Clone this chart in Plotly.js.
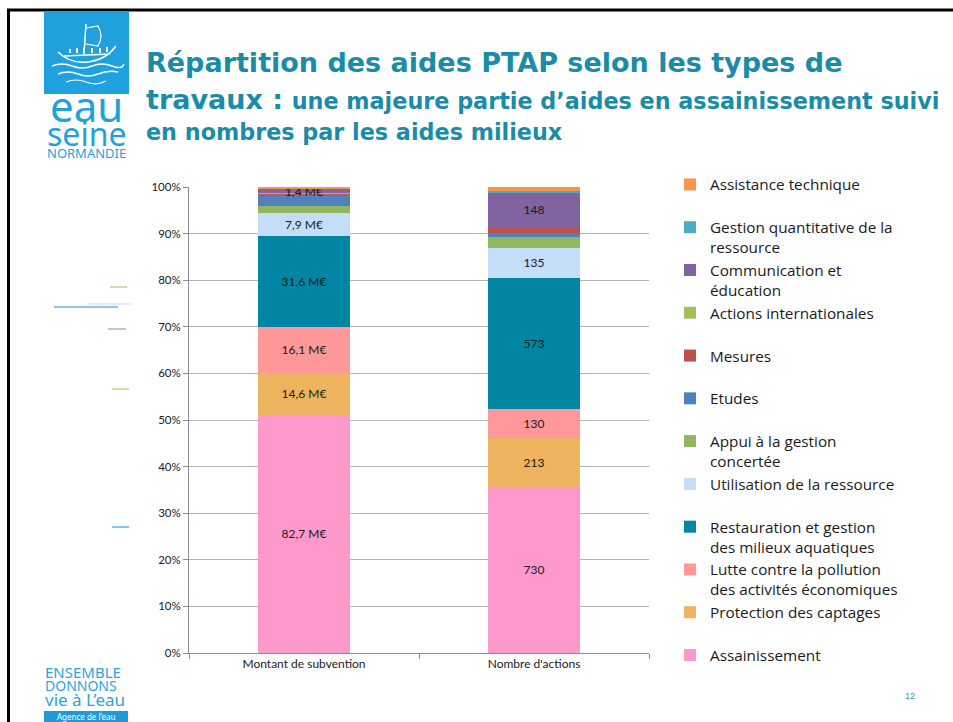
<!DOCTYPE html>
<html>
<head>
<meta charset="utf-8">
<script src="https://cdn.plot.ly/plotly-3.0.1.min.js"></script>
<style>
html,body{margin:0;padding:0;background:#fff;}
#chart{width:953px;height:722px;}
</style>
</head>
<body>
<div id="chart"></div>
<script>
// ---------- DATA ----------
const categories = ['Montant de subvention', "Nombre d'actions"];
const seriesNames = [
  'Assainissement',
  'Protection des captages',
  'Lutte contre la pollution des activités économiques',
  'Restauration et gestion des milieux aquatiques',
  'Utilisation de la ressource',
  'Appui à la gestion concertée',
  'Etudes',
  'Mesures',
  'Actions internationales',
  'Communication et éducation',
  'Gestion quantitative de la ressource',
  'Assistance technique'
];
const legendLabels = [
  'Assainissement',
  'Protection des captages',
  'Lutte contre la pollution<br>des activités économiques',
  'Restauration et gestion<br>des milieux aquatiques',
  'Utilisation de la ressource',
  'Appui à la gestion<br>concertée',
  'Etudes',
  'Mesures',
  'Actions internationales',
  'Communication et<br>éducation',
  'Gestion quantitative de la<br>ressource',
  'Assistance technique'
];
// Montant de subvention (M€)
const montantMEUR = [82.7, 14.6, 16.1, 31.6, 7.9, 2.4, 3.8, 0.4, 0.2, 1.4, 0.2, 0.6];
// Nombre d'actions
const nombreActions = [730, 213, 130, 573, 135, 47, 16, 28, 1, 148, 10, 16];
const showLabel = [true, true, true, true, true, false, false, false, false, true, false, false];
const seriesColors = ['#FF99CC', '#EEB35F', '#FF9999', '#0086A3', '#C4DDF8', '#92B55F',
                      '#4F81BD', '#C0504D', '#A3C15B', '#8064A2', '#4BACC6', '#F79646'];

// ---------- GEOMETRY helpers (page pixels -> paper) ----------
const W = 953, H = 722;
const M = {l: 189, r: 304, t: 187, b: 69};
const PW = W - M.l - M.r, PH = H - M.t - M.b;
const X = px => (px - M.l) / PW;
const Y = py => (H - M.b - py) / PH;

const fmtM = v => v.toFixed(1).replace('.', ',') + ' M€';

const traces = seriesNames.map((name, i) => {
  const single = legendLabels[i].indexOf('<br>') < 0;
  return {
    type: 'bar',
    name: single ? legendLabels[i] + '<br>\u00a0' : legendLabels[i],
    x: categories,
    y: [montantMEUR[i], nombreActions[i]],
    text: showLabel[i] ? [fmtM(montantMEUR[i]), String(nombreActions[i])] : ['', ''],
    textposition: 'inside',
    insidetextanchor: 'middle',
    textangle: 0,
    textfont: {family: 'Lato, sans-serif', size: 12, color: '#1a1a1a'},
    marker: {color: seriesColors[i], line: {width: 0}},
    hoverinfo: 'name+y'
  };
});

const teal = '#1A8CA7';
const logoBlue = '#1EA1DC';

const P = (px, py) => X(px) + ',' + Y(py);

const shapes = [
  // slide frame
  {type: 'line', xref: 'paper', yref: 'paper', x0: X(8.5), x1: X(8.5), y0: Y(9), y1: Y(722), line: {color: '#000', width: 3}},
  {type: 'line', xref: 'paper', yref: 'paper', x0: X(7), x1: X(953), y0: Y(10), y1: Y(10), line: {color: '#000', width: 3}},
  // logo block
  {type: 'rect', xref: 'paper', yref: 'paper', x0: X(44), x1: X(129), y0: Y(12), y1: Y(94), fillcolor: logoBlue, line: {width: 0}, layer: 'below'},
  // ship hull
  {type: 'path', xref: 'paper', yref: 'paper', layer: 'above',
   path: 'M' + P(58, 52) + ' Q' + P(70, 64) + ' ' + P(88, 62) + ' Q' + P(106, 60) + ' ' + P(116, 46) +
         ' M' + P(64, 56) + ' L' + P(110, 54),
   line: {color: '#fff', width: 1.5}},
  // shields
  {type: 'path', xref: 'paper', yref: 'paper', layer: 'above',
   path: 'M' + P(70, 53) + ' L' + P(70, 49) + ' M' + P(77, 53) + ' L' + P(77, 48) + ' M' + P(84, 53) + ' L' + P(84, 48) +
         ' M' + P(92, 53) + ' L' + P(92, 48) + ' M' + P(100, 53) + ' L' + P(100, 48) + ' M' + P(107, 52) + ' L' + P(107, 47),
   line: {color: '#fff', width: 2}},
  // mast and sail
  {type: 'line', xref: 'paper', yref: 'paper', x0: X(84), x1: X(86), y0: Y(54), y1: Y(24), line: {color: '#fff', width: 1.5}},
  {type: 'path', xref: 'paper', yref: 'paper', layer: 'above',
   path: 'M' + P(86, 28) + ' L' + P(98, 26) + ' Q' + P(104, 36) + ' ' + P(98, 46) + ' L' + P(86, 44),
   line: {color: '#fff', width: 1.2}},
  // waves
  {type: 'path', xref: 'paper', yref: 'paper', layer: 'above',
   path: 'M' + P(52, 66) + ' Q' + P(62, 62) + ' ' + P(72, 66) + ' T' + P(92, 66) + ' T' + P(112, 66) + ' T' + P(124, 64),
   line: {color: '#fff', width: 1.5}},
  {type: 'path', xref: 'paper', yref: 'paper', layer: 'above',
   path: 'M' + P(58, 74) + ' Q' + P(68, 70) + ' ' + P(78, 74) + ' T' + P(98, 74) + ' T' + P(118, 72),
   line: {color: '#fff', width: 1.5}},
  {type: 'path', xref: 'paper', yref: 'paper', layer: 'above',
   path: 'M' + P(66, 82) + ' Q' + P(76, 78) + ' ' + P(86, 82) + ' T' + P(106, 81),
   line: {color: '#fff', width: 1.2}},
  // bottom logo band
  {type: 'rect', xref: 'paper', yref: 'paper', x0: X(44), x1: X(128), y0: Y(711), y1: Y(722), fillcolor: '#1E9AD6', line: {width: 0}},
  // leftover marks on left side
  {type: 'line', xref: 'paper', yref: 'paper', x0: X(110), x1: X(127), y0: Y(287), y1: Y(287), line: {color: '#9BBB59', width: 1}},
  {type: 'line', xref: 'paper', yref: 'paper', x0: X(88), x1: X(131), y0: Y(304), y1: Y(304), line: {color: '#C4DDF8', width: 1}},
  {type: 'line', xref: 'paper', yref: 'paper', x0: X(54), x1: X(118), y0: Y(307), y1: Y(307), line: {color: '#1E8FC0', width: 1}},
  {type: 'line', xref: 'paper', yref: 'paper', x0: X(108), x1: X(126), y0: Y(329), y1: Y(329), line: {color: '#B07890', width: 1}},
  {type: 'line', xref: 'paper', yref: 'paper', x0: X(112), x1: X(129), y0: Y(389), y1: Y(389), line: {color: '#9BBB59', width: 1}},
  {type: 'line', xref: 'paper', yref: 'paper', x0: X(112), x1: X(129), y0: Y(527), y1: Y(527), line: {color: '#2FA0D0', width: 1.2}}
];

const ann = (text, px, py, opts) => Object.assign({
  text: text, xref: 'paper', yref: 'paper', x: X(px), y: Y(py),
  xanchor: 'left', yanchor: 'middle', showarrow: false
}, opts || {});

const annotations = [
  ann('<b>Répartition des aides PTAP selon les types de</b>', 144, 62,
      {font: {family: 'DejaVu Sans', size: 27, color: teal}}),
  ann('<b>travaux :</b> <b><span style="font-size:22.3px">une majeure partie d’aides en assainissement suivi</span></b>', 144, 100,
      {font: {family: 'DejaVu Sans', size: 27, color: teal}}),
  ann('<b>en nombres par les aides milieux</b>', 144, 132,
      {font: {family: 'DejaVu Sans', size: 22.3, color: teal}}),
  // top logo text
  ann('eau', 86.5, 106, {xanchor: 'center', font: {family: 'Noto Sans', size: 42, color: logoBlue}}),
  ann('seine', 86.5, 133, {xanchor: 'center', font: {family: 'Noto Sans', size: 32, color: logoBlue}}),
  ann('NORMANDIE', 86.5, 153, {xanchor: 'center', font: {family: 'Noto Sans', size: 13, color: logoBlue}}),
  // bottom logo text
  ann('ENSEMBLE', 43, 672, {font: {family: 'Noto Sans', size: 15, color: '#29A6DB'}}),
  ann('DONNONS', 43, 685.5, {font: {family: 'Noto Sans', size: 14, color: '#29A6DB'}}),
  ann('vie à L’eau', 43, 699, {font: {family: 'Noto Sans', size: 17, color: '#29A6DB'}}),
  ann('Agence de l’eau', 86, 716, {xanchor: 'center', font: {family: 'Noto Sans', size: 8, color: '#ffffff'}}),
  ann('12', 910, 696, {xanchor: 'center', font: {family: 'Liberation Sans', size: 9, color: '#1FA0C8'}})
];

const layout = {
  width: W, height: H,
  margin: M,
  paper_bgcolor: '#ffffff',
  plot_bgcolor: '#ffffff',
  barmode: 'stack',
  barnorm: 'percent',
  bargap: 0.6,
  showlegend: true,
  uniformtext: {mode: 'show', minsize: 12},
  legend: {
    xref: 'container', yref: 'container',
    x: 670 / W, y: 1 - 168 / H, xanchor: 'left', yanchor: 'top',
    traceorder: 'reversed',
    valign: 'top',
    itemwidth: 30,
    maxheight: 560,
    font: {family: 'Open Sans, sans-serif', size: 15.3, color: '#1a1a1a'},
    bgcolor: 'rgba(0,0,0,0)',
    itemclick: false, itemdoubleclick: false
  },
  xaxis: {
    type: 'category',
    showline: true, linecolor: '#8C8C8C', linewidth: 1,
    ticks: 'outside', tickson: 'boundaries', ticklen: 5, tickcolor: '#8C8C8C',
    tickfont: {family: 'Lato, sans-serif', size: 12, color: '#1a1a1a'},
    showgrid: false, zeroline: false
  },
  yaxis: {
    range: [0, 100], dtick: 10, tick0: 0, ticksuffix: '%',
    showline: true, linecolor: '#8C8C8C', linewidth: 1,
    ticks: 'outside', ticklen: 5, tickcolor: '#8C8C8C',
    showgrid: true, gridcolor: '#B3B3B3', gridwidth: 1,
    zeroline: false,
    tickfont: {family: 'Lato, sans-serif', size: 11.5, color: '#1a1a1a'}
  },
  shapes: shapes,
  annotations: annotations,
  font: {family: 'Lato, sans-serif'}
};

Plotly.newPlot('chart', traces, layout, {displayModeBar: false, staticPlot: true});
</script>
</body>
</html>
